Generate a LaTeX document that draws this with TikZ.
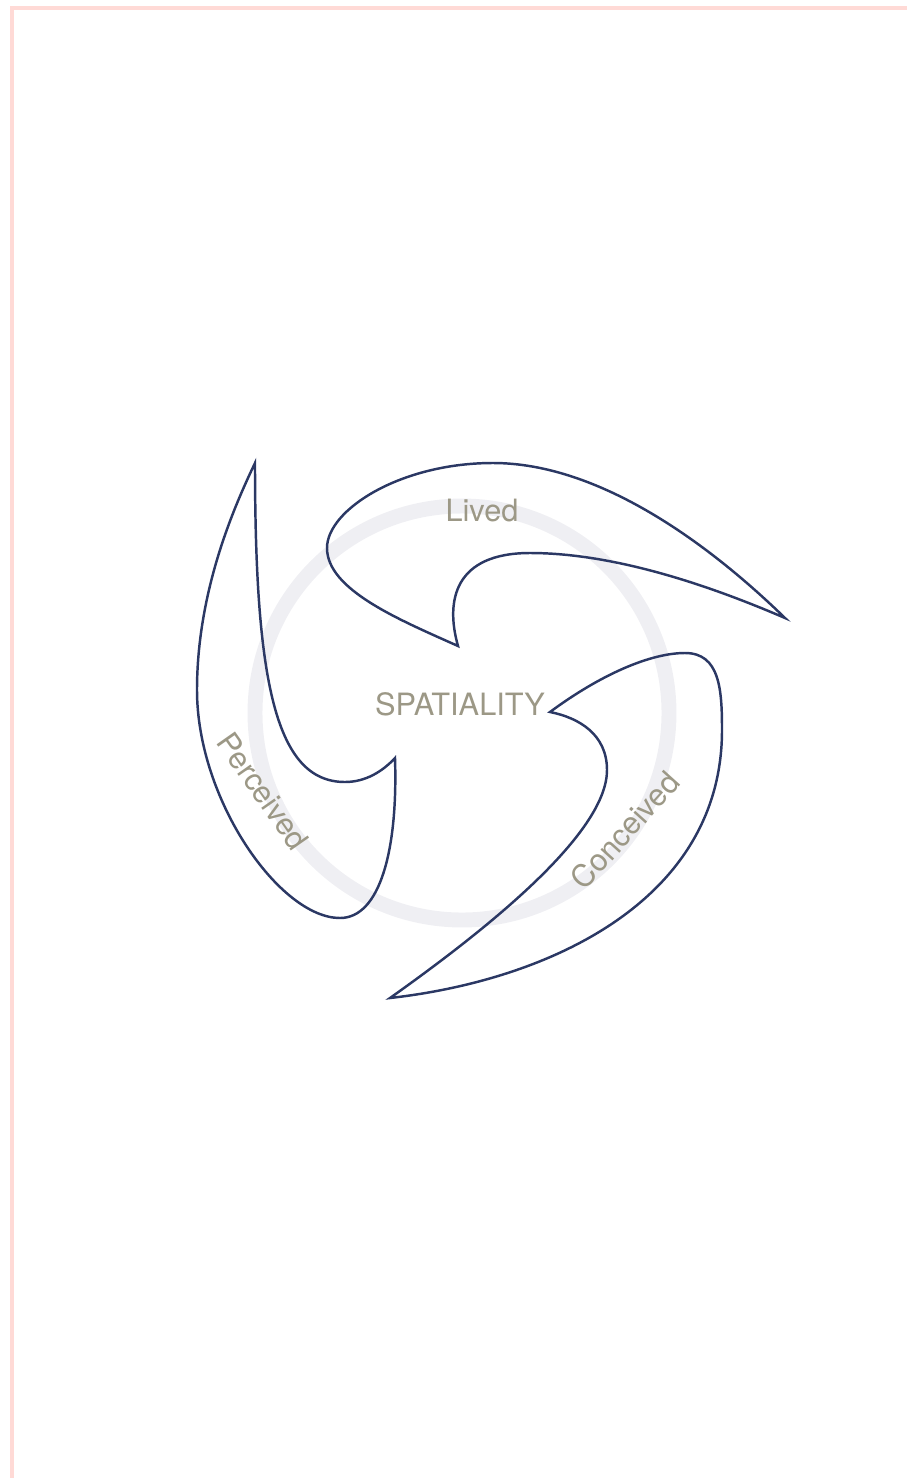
\documentclass[tikz,border=0pt]{standalone}
\usepackage{fontspec}
\setmainfont{TeX Gyre Heros}
\usetikzlibrary{positioning}

\definecolor{navy}{RGB}{43,56,100}
\definecolor{khaki}{RGB}{156,152,134}
\definecolor{ringgray}{RGB}{239,239,243}
\definecolor{pinkline}{RGB}{255,218,214}

\tikzset{
  blade/.style={draw=navy, line width=1.4pt},
  label/.style={text=khaki, font=\fontsize{17.5}{19}\selectfont, inner sep=0pt}
}

\begin{document}
\begin{tikzpicture}[x=0.02cm, y=-0.02cm]
        \useasboundingbox (0,0) rectangle (907,1478);

        % Moldura
        \draw[pinkline, line width=2.4pt] (12,1478) -- (12,8) -- (907,8);

        % Anel
        \draw[ringgray, line width=8.5pt] (462,713) circle[radius=207];

        % Perceived
        \draw[blade] (255,463) .. controls (255,680) and (275,782) .. (345,782)
          .. controls (365,782) and (382,772) .. (395,758)
          .. controls (398,850) and (380,918) .. (340,918)
          .. controls (280,918) and (197,800) .. (197,690)
          .. controls (197,590) and (235,505) .. (255,463) -- cycle;

        % Lived
        \draw[blade] (458,646) .. controls (445,600) and (455,553) .. (530,553)
          .. controls (620,553) and (720,590) .. (785,618)
          .. controls (710,545) and (600,463) .. (493,463)
          .. controls (400,463) and (327,510) .. (327,548)
          .. controls (327,590) and (400,620) .. (458,646) -- cycle;

        % Conceived
        \draw[blade] (550,712) .. controls (600,675) and (650,653) .. (685,653)
          .. controls (720,653) and (722,690) .. (722,730)
          .. controls (722,900) and (550,980) .. (390,998)
          .. controls (500,920) and (607,830) .. (607,770)
          .. controls (607,735) and (580,718) .. (550,712) -- cycle;

        % Textos
        \node[label] (spatiality) at (460,704) {SPATIALITY};
        \node[label] (lived) at (482,511) {Lived};
        \node[label, rotate=-55] (perceived) at (263,791) {Perceived};
        \node[label, rotate=48] (conceived) at (625,830) {Conceived};
\end{tikzpicture}
\end{document}
